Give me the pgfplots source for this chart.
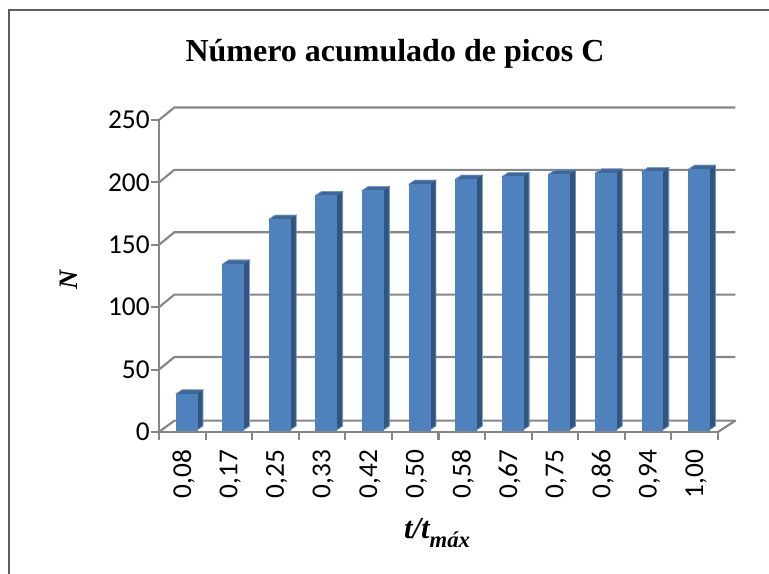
\documentclass[border=0pt]{standalone}
\usepackage{pgfplots}
\pgfplotsset{compat=1.18}
\usepackage{fontspec}
\setmainfont{Liberation Serif}
\newfontfamily\calfont{Carlito}
\definecolor{axg}{HTML}{868686}
\definecolor{barF}{HTML}{4F81BD}
\definecolor{barS}{HTML}{32557F}
\definecolor{barT}{HTML}{3F6797}
\definecolor{barE}{HTML}{7FA6D6}
\pgfdeclareplotmark{nomark}{}
\begin{document}
\begin{tikzpicture}[x=0.75pt,y=-0.75pt]
\path[use as bounding box] (0,0) rectangle (769,574);
\draw[color=axg!70!black, line width=1.3pt] (9,574) -- (9,10) -- (769,10);
\begin{axis}[
  at={(119.25pt,-324pt)}, anchor=south west, scale only axis,
  x=34.935pt, y=0.936pt,
  xmin=0, xmax=12, ymin=0, ymax=250,
  clip=false,
  axis x line*=bottom, axis y line*=left,
  axis line style={draw=axg, line width=1.6pt, -},
  every tick/.style={draw=axg, line width=1.6pt},
  tick align=outside, major tick length=6pt,
  xtick={0,1,...,12}, ytick={0,50,...,250},
  x tick label as interval,
  xticklabels={0{,}08,0{,}17,0{,}25,0{,}33,0{,}42,0{,}50,0{,}58,0{,}67,0{,}75,0{,}86,0{,}94,1{,}00},
  xticklabel style={font=\calfont\fontsize{20.5pt}{22pt}\selectfont, rotate=90, anchor=east, yshift=-1pt, xshift=-3.7pt},
  yticklabel style={font=\calfont\fontsize{20.5pt}{22pt}\selectfont, /pgf/number format/assume math mode=true, xshift=2.5pt},
  tick label style={text=black},
]
\pgfplotsinvokeforeach{50,100,150,200,250}{
  \draw[axg, line width=1.6pt, line join=round]
    (axis cs:0,#1) -- ++(11.5pt,9.4pt) -- ++(420.7pt,0pt);
}
\draw[axg, line width=1.6pt, line join=round]
  (axis cs:0,0) -- ++(11.5pt,8.5pt) -- ++(420.7pt,0pt) -- (axis cs:12,0);
\addplot[
  scatter, only marks, mark=nomark,
  visualization depends on={y \as \barv},
  scatter/@pre marker code/.code={%
    \begin{scope}
    \pgfmathsetlengthmacro{\hh}{\barv*0.936pt}
    \fill[barS] (11.0pt,1.5pt) -- (15.5pt,4.5pt) -- (15.5pt,4.5pt-\hh) -- (11.0pt,1.5pt-\hh) -- cycle;
    \draw[barE, line width=0.5pt] (15.5pt,4.5pt) -- (15.5pt,4.5pt-\hh) -- (11.0pt,1.5pt-\hh);
    \fill[barT] (-4.7pt,1.5pt) -- (11.0pt,1.5pt) -- (15.5pt,4.5pt) -- (-0.2pt,4.5pt) -- cycle;
    \draw[barE, line width=0.5pt] (-4.7pt,1.5pt) -- (-0.2pt,4.5pt) -- (15.5pt,4.5pt);
    \fill[barF] (-4.7pt,1.5pt) rectangle (11.0pt,1.5pt-\hh);
  },
  scatter/@post marker code/.code={\end{scope}},
] table {
x y
0.5 29
1.5 133
2.5 169
3.5 188
4.5 192
5.5 197
6.5 201
7.5 203
8.5 205
9.5 206
10.5 207
11.5 209
};
\end{axis}
\node[font=\bfseries\fontsize{24pt}{26pt}\selectfont] at (395,54) {Número acumulado de picos C};
\node[font=\bfseries\itshape\fontsize{20pt}{22pt}\selectfont, rotate=90] at (69,280) {N};
\node[font=\bfseries\itshape\fontsize{23pt}{24pt}\selectfont] at (437,533) {t/t\raisebox{-0.3em}{\fontsize{17pt}{18pt}\selectfont máx}};
\end{tikzpicture}
\end{document}
